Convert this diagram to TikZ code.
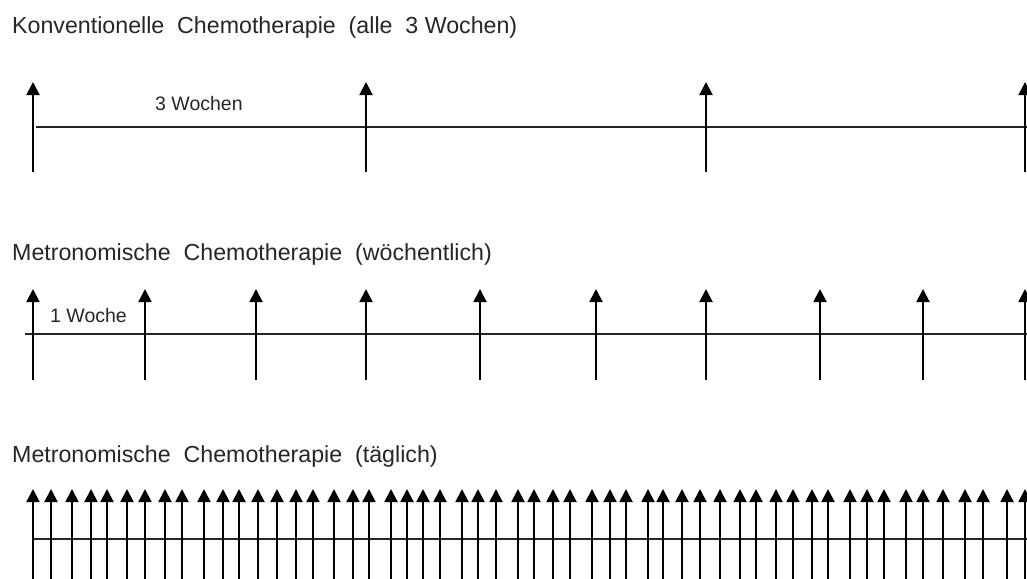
\documentclass[tikz,border=0pt]{standalone}
\usepackage{fontspec}
\setmainfont{Liberation Sans}
\usetikzlibrary{arrows.meta}
\begin{document}
\begin{tikzpicture}[x=1pt,y=-1pt,
  title/.style={anchor=base west,inner sep=0pt,font=\fontsize{23.2}{27}\selectfont,text=black!85},
  lbl/.style={anchor=base west,inner sep=0pt,font=\fontsize{19.5}{23}\selectfont,text=black!85},
  dose/.style={line width=1.9pt,-{Triangle[width=13pt,length=13pt]}},
  axis/.style={line width=1.3pt,black!85}]
\useasboundingbox (0,0) rectangle (1027,578);
\clip (0,0) rectangle (1027,578);
% titles
\node[title] (t1) at (12,34) {Konventionelle\ \ Chemotherapie\ \ (alle\ \ 3 Wochen)};
\node[title] (t2) at (12,260) {Metronomische\ \ Chemotherapie\ \ (wöchentlich)};
\node[title] (t3) at (12,462) {Metronomische\ \ Chemotherapie\ \ (täglich)};
% interval labels
\node[lbl] (l1) at (155,110) {3 Wochen};
\node[lbl] (l2) at (50,322) {1 Woche};
% row 1: every 3 weeks
\coordinate (a1s) at (36,127); \coordinate (a1e) at (1027,127);
\draw[axis] (a1s) -- (a1e);
\foreach \x [count=\i] in {33,366,706,1025}{
  \coordinate (r1b\i) at (\x,172); \coordinate (r1t\i) at (\x,82);
  \draw[dose] (r1b\i) -- (r1t\i);
}
% row 2: weekly
\coordinate (a2s) at (25,334); \coordinate (a2e) at (1027,334);
\draw[axis] (a2s) -- (a2e);
\foreach \x [count=\i] in {33,145,256,366,480,596,706,820,923,1025}{
  \coordinate (r2b\i) at (\x,380); \coordinate (r2t\i) at (\x,289);
  \draw[dose] (r2b\i) -- (r2t\i);
}
% row 3: daily
\coordinate (a3s) at (33,539); \coordinate (a3e) at (1027,539);
\draw[axis] (a3s) -- (a3e);
\foreach \x [count=\i] in {33,51,72,91,107,127,145,165,182,204,223,239,258,277,296,313,334,353,369,391,407,423,440,462,478,496,518,534,553,570,592,610,626,648,663,682,700,720,740,756,776,793,812,828,850,867,884,906,923,943,965,983,1007,1025}{
  \coordinate (r3b\i) at (\x,580); \coordinate (r3t\i) at (\x,489);
  \draw[dose] (r3b\i) -- (r3t\i);
}
\end{tikzpicture}
\end{document}
